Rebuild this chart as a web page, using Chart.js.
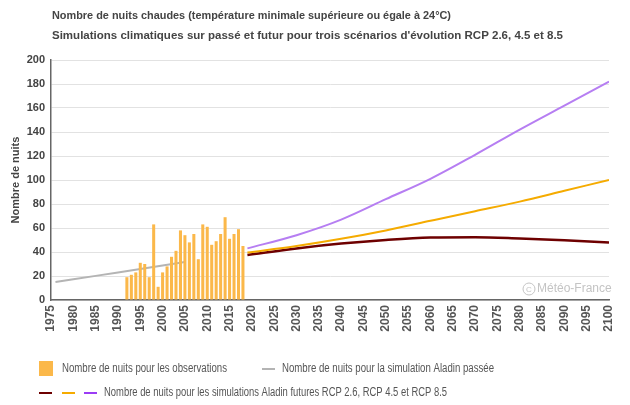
<!DOCTYPE html>
<html>
<head>
<meta charset="utf-8">
<script src="https://cdn.jsdelivr.net/npm/chart.js@4/dist/chart.umd.min.js"></script>
<style>
  html, body { margin: 0; padding: 0; background: #fff; }
  #wrap { width: 630px; height: 405px; position: relative; }
</style>
</head>
<body>
<div id="wrap"><canvas id="chart" width="630" height="405"></canvas></div>
<script>
  const titleLines = [
    "Nombre de nuits chaudes (température minimale supérieure ou égale à 24°C)",
    "Simulations climatiques sur passé et futur pour trois scénarios d'évolution RCP 2.6, 4.5 et 8.5",
  ];

  // observations (barres)
  const obsYears = [1992, 1993, 1994, 1995, 1996, 1997, 1998, 1999, 2000, 2001, 2002, 2003, 2004, 2005,
    2006, 2007, 2008, 2009, 2010, 2011, 2012, 2013, 2014, 2015, 2016, 2017, 2018];
  const obsValues = [19, 21, 23, 31, 30, 19, 63, 11, 23, 28, 36, 41, 58, 54,
    48, 55, 34, 63, 61, 46, 49, 55, 69, 51, 55, 59, 45];

  // simulation Aladin passée
  const pastYears = [1976, 1980, 1985, 1990, 1995, 2000, 2005];
  const pastValues = [15, 17.2, 20.1, 23, 25.9, 28.8, 31.7];

  // simulations futures
  const futureYears = [2019, 2030, 2040, 2050, 2060, 2070, 2080, 2090, 2100];
  const rcp26 = [37.5, 43, 47, 50, 52, 52.3, 51.2, 49.7, 48];
  const rcp45 = [39.5, 45, 51, 58, 66, 74, 82, 91, 100];
  const rcp85 = [43, 54, 67, 84, 101, 121, 142, 162, 182];

  const xTicks = [];
  for (let y = 1975; y <= 2100; y += 5) xTicks.push(y);

  const legendObs = "Nombre de nuits pour les observations";
  const legendPast = "Nombre de nuits pour la simulation Aladin passée";
  const legendFuture = "Nombre de nuits pour les simulations Aladin futures RCP 2.6, RCP 4.5 et RCP 8.5";

  const colors = {
    bar: "#fbb84a",
    past: "#b4b4b4",
    rcp26: "#6e0000",
    rcp45: "#f5ab00",
    rcp85: "#b67ef2",
    text: "#444",
  };

  const pts = (xs, ys) => xs.map((x, i) => ({ x, y: ys[i] }));

  // texte étiré à une largeur donnée (la police d'origine est plus large)
  function fitText(ctx, text, x, y, width) {
    const w = ctx.measureText(text).width;
    ctx.save();
    ctx.translate(x, y);
    ctx.scale(width / w, 1);
    ctx.fillText(text, 0, 0);
    ctx.restore();
  }

  const extras = {
    id: "extras",
    afterDraw(chart) {
      const { ctx, scales } = chart;
      const xs = scales.x;
      ctx.save();

      // titres
      ctx.fillStyle = colors.text;
      ctx.font = "bold 11px 'Liberation Sans', Arial, sans-serif";
      ctx.textAlign = "left";
      ctx.textBaseline = "middle";
      fitText(ctx, titleLines[0], 52, 16, 399);
      fitText(ctx, titleLines[1], 52, 36, 511);

      // étiquettes de l'axe x, tournées
      ctx.fillStyle = "#555";
      ctx.font = "bold 12px 'Liberation Sans', Arial, sans-serif";
      xTicks.forEach((v) => {
        const px = xs.getPixelForValue(v);
        ctx.save();
        ctx.translate(px, 305);
        ctx.rotate(-Math.PI / 2);
        ctx.textAlign = "right";
        ctx.textBaseline = "middle";
        ctx.fillText(String(v), 0, 0);
        ctx.restore();
      });

      // copyright
      ctx.strokeStyle = "#c4c4c4";
      ctx.fillStyle = "#c4c4c4";
      ctx.lineWidth = 1;
      ctx.beginPath();
      ctx.arc(529, 289, 6, 0, Math.PI * 2);
      ctx.stroke();
      ctx.font = "8px 'Liberation Sans', Arial, sans-serif";
      ctx.textAlign = "center";
      ctx.fillText("C", 529, 289.5);
      ctx.font = "12px 'Liberation Sans', Arial, sans-serif";
      ctx.textAlign = "left";
      ctx.fillText("Météo-France", 537, 289);

      // légende
      ctx.font = "12.5px 'Liberation Sans Narrow', 'Liberation Sans', Arial, sans-serif";
      ctx.fillStyle = colors.bar;
      ctx.fillRect(39, 361, 14, 15);
      ctx.fillStyle = "#555";
      fitText(ctx, legendObs, 62, 369, 165);

      const seg = (x, y, c) => {
        ctx.strokeStyle = c;
        ctx.lineWidth = 2;
        ctx.beginPath();
        ctx.moveTo(x, y);
        ctx.lineTo(x + 13, y);
        ctx.stroke();
      };
      seg(262, 369, colors.past);
      fitText(ctx, legendPast, 282, 369, 212);

      seg(39, 393, colors.rcp26);
      seg(62, 393, colors.rcp45);
      seg(84, 393, "#9b3cf5");
      fitText(ctx, legendFuture, 104, 393, 343);

      ctx.restore();
    },
  };

  new Chart(document.getElementById("chart"), {
    type: "bar",
    data: {
      datasets: [
        {
          type: "bar",
          data: pts(obsYears, obsValues),
          backgroundColor: colors.bar,
          barPercentage: 0.8,
          categoryPercentage: 0.85,
          order: 0,
        },
        {
          type: "line",
          data: pts(pastYears, pastValues),
          borderColor: colors.past,
          borderWidth: 2,
          pointRadius: 0,
          order: 1,
        },
        {
          type: "line",
          data: pts(futureYears, rcp85),
          borderColor: colors.rcp85,
          borderWidth: 2,
          pointRadius: 0,
          cubicInterpolationMode: "monotone",
          order: 1,
        },
        {
          type: "line",
          data: pts(futureYears, rcp45),
          borderColor: colors.rcp45,
          borderWidth: 2,
          pointRadius: 0,
          cubicInterpolationMode: "monotone",
          order: 1,
        },
        {
          type: "line",
          data: pts(futureYears, rcp26),
          borderColor: colors.rcp26,
          borderWidth: 2.5,
          pointRadius: 0,
          cubicInterpolationMode: "monotone",
          order: 1,
        },
      ],
    },
    options: {
      responsive: false,
      animation: false,
      layout: { padding: { top: 60, right: 21, bottom: 0, left: 9 } },
      plugins: {
        legend: { display: false },
        tooltip: { enabled: false },
      },
      scales: {
        x: {
          type: "linear",
          min: 1975,
          max: 2100,
          offset: false,
          ticks: { display: false, stepSize: 5 },
          grid: { display: false, drawTicks: false },
          border: { color: "#666", width: 1.5 },
          afterFit: (s) => { s.height = 105; },
        },
        y: {
          min: 0,
          max: 200,
          ticks: {
            stepSize: 20,
            color: colors.text,
            font: { family: "'Liberation Sans', Arial, sans-serif", size: 11, weight: "bold" },
            padding: 6,
          },
          grid: { color: "#e2e2e2", drawTicks: false },
          border: { color: "#666", width: 1.5 },
          title: {
            display: true,
            text: "Nombre de nuits",
            color: colors.text,
            font: { family: "'Liberation Sans', Arial, sans-serif", size: 11, weight: "bold" },
            padding: 0,
          },
          afterFit: (s) => { s.width = 42; },
        },
      },
    },
    plugins: [extras],
  });
</script>
</body>
</html>
